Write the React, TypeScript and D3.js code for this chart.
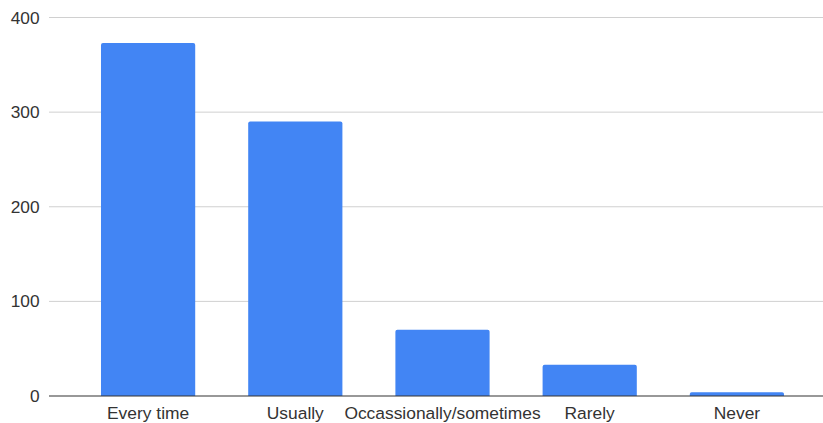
import React from "react";
import * as d3 from "d3";

const categories = ["Every time", "Usually", "Occassionally/sometimes", "Rarely", "Never"];
const values = [373, 290, 70, 33, 4];
const yTicks = [0, 100, 200, 300, 400];

const W = 823;
const H = 423;

export default function App() {
  const x = d3
    .scaleBand<string>()
    .domain(categories)
    .range([74.5, 810.5])
    .paddingInner(0.36)
    .paddingOuter(0.18);
  const y = d3.scaleLinear().domain([0, 400]).range([396, 17.5]);
  const r = 2;

  const barPath = (cx: number, w: number, top: number, bottom: number) => {
    const h = bottom - top;
    const rr = Math.min(r, h / 2, w / 2);
    return `M${cx},${bottom}V${top + rr}Q${cx},${top} ${cx + rr},${top}H${cx + w - rr}Q${cx + w},${top} ${cx + w},${top + rr}V${bottom}Z`;
  };

  return (
    <svg
      width={W}
      height={H}
      style={{ position: "absolute", left: 0, top: 0, background: "#fff" }}
      fontFamily="'Liberation Sans', Arial, sans-serif"
    >
      {yTicks.map((t) => (
        <g key={t}>
          {t !== 0 && (
            <line x1={49} x2={W} y1={y(t)} y2={y(t)} stroke="#d0d0d0" strokeWidth={1} />
          )}
          <text x={39.5} y={y(t)} dy="0.35em" textAnchor="end" fontSize={17.3} fill="#333">
            {t}
          </text>
        </g>
      ))}
      {categories.map((c, i) => (
        <path
          key={c}
          d={barPath(x(c)!, x.bandwidth(), y(values[i]), y(0))}
          fill="#4285F4"
        />
      ))}
      <line x1={49} x2={W} y1={y(0)} y2={y(0)} stroke="#333" strokeWidth={1.2} />
      {categories.map((c) => (
        <text
          key={c}
          x={x(c)! + x.bandwidth() / 2}
          y={419}
          textAnchor="middle"
          fontSize={17.4}
          fill="#333"
        >
          {c}
        </text>
      ))}
    </svg>
  );
}
